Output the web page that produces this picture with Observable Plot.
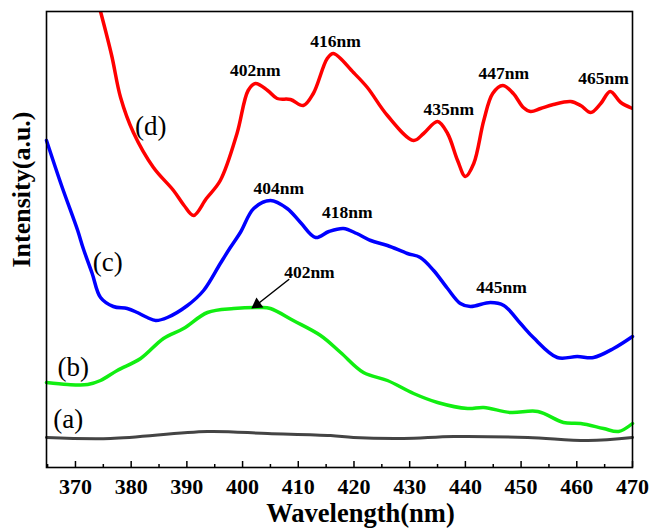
<!DOCTYPE html>
<html>
<head>
<meta charset="utf-8">
<script src="https://cdn.jsdelivr.net/npm/d3@7"></script>
<script src="https://cdn.jsdelivr.net/npm/@observablehq/plot@0.6"></script>
<style>
html,body{margin:0;padding:0;background:#fff;}
</style>
</head>
<body>
<div id="chart"></div>
<script>
// Wavelength (nm) and relative intensity (arbitrary units) per curve
const redX = [374.5,376.5,378.1,380.4,384.0,387.6,389.5,391.2,393.5,396,399,401,402.3,404.5,406.2,408.6,410.9,412.7,415.2,416.3,419.9,422.4,426,430.7,432.5,435,436.8,438.6,440,441.5,443.3,444.9,446.7,448.6,450.4,451.7,453.5,455.8,458.9,460.7,462.5,464.3,466,467.9,470];
const redY = [456,412,370,335,300,277,262,252,269,287,334,377,384,377,369,368,362,374,409,414,395,380,352,327,334,346,334,307,291,304,347,374,382,374,360,356,359,363,366,362,355,364,376,365,359];

const blueX = [364.8,367.5,370.4,371.4,373,374.5,376.8,379.3,381.1,382.9,384.4,386.5,390.1,393,396,397.8,399.6,402,405,408,410.4,413.1,415.5,418.1,420.5,423,426,429.6,431.9,434.3,436.8,439.1,440.9,444.5,446.9,449.9,452.2,456.5,460.1,463,466.6,470];
const blueY = [327,282,237,219,194,170,161,159,155,150,147,150,162,177,204,220,235,259,267,259,245,230,236,239,234,227,222,214,210,197,179,164,161,165,162,144,130,110,111,110,119,131];

const greenX = [364.8,368.6,372.2,374.5,377.5,381.7,385.8,389.4,393.7,398.4,403.2,405,409.1,414,417.6,421.7,426,430.7,435,440.4,443.3,448.1,453,457.6,460.7,464.8,467.5,470];
const greenY = [85,83,83,87,97,109,129,139,155,159,160,159,147,132,115,95,87,74,65,59,60,55,56,45,44,39,36,44];

const grayX = [364.8,376.3,393.7,404.5,415.8,419.9,428.9,437.9,451.2,462,470];
const grayY = [30,29,36,34,32,30,29,31,30,27,30];

const majorTicks = [370,380,390,400,410,420,430,440,450,460,470];
const minorTicks = [365,375,385,395,405,415,425,435,445,455,465];

const curveLabels = ["(a)","(b)","(c)","(d)"];
const curveLabelX = [368.7,369.6,375.8,383.5];
const curveLabelY = [48,100,205,341];

const peakLabels = ["402nm","416nm","435nm","447nm","465nm","404nm","418nm","445nm","402nm"];
const peakX = [402.3,416.7,437,446.9,464.8,406.5,418.8,446.5,412];
const peakY = [397,426,358,394,389,279,255,180,195];

const arrowFrom = [408.3,188];
const arrowTo = [402.6,163];

const xTitle = "Wavelength(nm)";
const yTitle = "Intensity(a.u.)";

const toRows = (xs, ys) => xs.map((x, i) => ({x, y: ys[i]}));
const red = toRows(redX, redY);
const blue = toRows(blueX, blueY);
const green = toRows(greenX, greenY);
const gray = toRows(grayX, grayY);
const cLabels = curveLabels.map((t, i) => ({t, x: curveLabelX[i], y: curveLabelY[i]}));
const pLabels = peakLabels.map((t, i) => ({t, x: peakX[i], y: peakY[i]}));

const serif = "'Liberation Serif','Times New Roman',serif";

const chart = Plot.plot({
  width: 651,
  height: 528,
  marginLeft: 46,
  marginRight: 19,
  marginTop: 11,
  marginBottom: 61,
  style: {fontFamily: serif, background: "#fff", overflow: "visible"},
  x: {domain: [364.8, 470], axis: null},
  y: {domain: [0, 456], axis: null},
  marks: [
    Plot.line(gray, {x: "x", y: "y", stroke: "#444", strokeWidth: 3, curve: "catmull-rom"}),
    Plot.line(green, {x: "x", y: "y", stroke: "#11ee11", strokeWidth: 3.5, curve: "catmull-rom"}),
    Plot.line(blue, {x: "x", y: "y", stroke: "#0000ff", strokeWidth: 3.5, curve: "catmull-rom"}),
    Plot.line(red, {x: "x", y: "y", stroke: "#ff0000", strokeWidth: 3.5, curve: "catmull-rom", clip: true}),
    Plot.ruleX(majorTicks, {x: d => d, insetTop: 450, stroke: "#000", strokeWidth: 1.5}),
    Plot.ruleX(minorTicks, {x: d => d, insetTop: 453, stroke: "#000", strokeWidth: 1.5}),
    Plot.frame({stroke: "#000", strokeWidth: 1.6}),
    Plot.text(majorTicks, {x: d => d, text: d => String(d), frameAnchor: "bottom", dy: 19, lineAnchor: "middle", fontSize: 22, fontWeight: "bold", fill: "#000", fontFamily: serif}),
    Plot.text([xTitle], {text: d => d, frameAnchor: "bottom", textAnchor: "middle", dx: 21, dy: 46, lineAnchor: "middle", fontSize: 26.5, fontWeight: "bold", fill: "#000", fontFamily: serif}),
    Plot.text([yTitle], {text: d => d, frameAnchor: "left", textAnchor: "middle", dx: -25, dy: -50, rotate: -90, lineAnchor: "middle", fontSize: 26, fontWeight: "bold", fill: "#000", fontFamily: serif}),
    Plot.text(cLabels, {x: "x", y: "y", text: "t", lineAnchor: "middle", fontSize: 27, fill: "#000", fontFamily: serif}),
    Plot.text(pLabels, {x: "x", y: "y", text: "t", lineAnchor: "middle", fontSize: 17.5, fontWeight: "bold", fill: "#000", fontFamily: serif}),
    Plot.arrow([{x1: arrowFrom[0], y1: arrowFrom[1], x2: arrowTo[0], y2: arrowTo[1]}], {x1: "x1", y1: "y1", x2: "x2", y2: "y2", stroke: "#000", strokeWidth: 1.5, headLength: 0}),
    Plot.dot([{x: arrowTo[0], y: arrowTo[1]}], {x: "x", y: "y", symbol: "triangle", r: 4.5, fill: "#000", stroke: "none", rotate: 235})
  ]
});
document.getElementById("chart").appendChild(chart);
</script>
</body>
</html>
